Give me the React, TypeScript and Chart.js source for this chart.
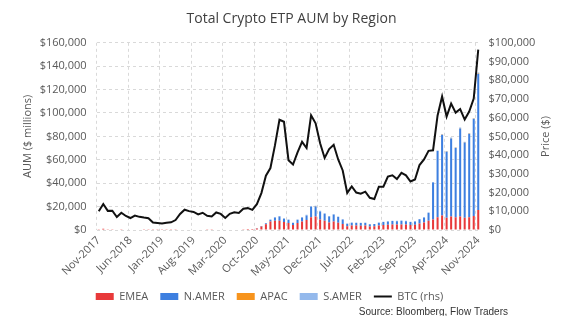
import React, { useEffect, useRef } from "react";
import { Chart, registerables } from "chart.js";

Chart.register(...registerables);

const MONTHS = ["Jan", "Feb", "Mar", "Apr", "May", "Jun", "Jul", "Aug", "Sep", "Oct", "Nov", "Dec"];
// Monthly categories Nov-2017 .. Nov-2024
const categories: string[] = [];
for (let y = 2017, m = 10; y < 2024 || (y === 2024 && m <= 10); m++) {
  if (m === 12) { m = 0; y++; }
  if (y > 2024 || (y === 2024 && m > 10)) break;
  categories.push(`${MONTHS[m]}-${y}`);
}

// AUM by region ($ millions)
const emea = [
  700, 1000, 700, 700, 450, 550, 450, 350, 400, 350, 300, 300, 200, 150, 150, 170, 200, 250, 350, 450,
  400, 400, 350, 400, 300, 300, 450, 400, 350, 450, 500, 500, 650, 800,
  800, 1300, 3000, 5000, 7200, 8000, 8000, 6800, 6000, 4200, 6000, 7200, 8500, 11000, 11500, 9000,
  7800, 6500, 7300, 6300, 5200, 3300, 3900, 3800, 3700, 3800, 3000, 3100, 3900, 4200, 4400, 4700,
  4600, 4800, 4600, 4200, 4500, 5600, 6400, 8000, 9000, 11000, 12500, 10500, 11500, 10800, 11500, 10500,
  11000, 12000, 17000,
];
const namer = [
  0, 0, 0, 0, 0, 0, 0, 0, 0, 0, 0, 0, 0, 0, 0, 0, 0, 0, 0, 0,
  0, 0, 0, 0, 0, 0, 0, 0, 0, 0, 0, 0, 0, 0,
  100, 200, 500, 800, 1600, 2700, 3500, 2900, 2700, 1900, 2700, 3400, 4000, 8800, 8600, 6900,
  6100, 5100, 5800, 4800, 3700, 2000, 2400, 2300, 2300, 2300, 1850, 1950, 2400, 2600, 2850, 3050,
  2950, 3150, 2950, 2600, 2750, 3650, 4350, 6700, 31500, 56500, 68800, 56300, 66600, 59200, 75300, 64300,
  71000, 82900, 116600,
];
const apac = [
  0, 0, 0, 0, 0, 0, 0, 0, 0, 0, 0, 0, 0, 0, 0, 0, 0, 0, 0, 0,
  0, 0, 0, 0, 0, 0, 0, 0, 0, 0, 0, 0, 0, 0,
  0, 0, 0, 0, 0, 0, 100, 0, 0, 0, 0, 0, 0, 100, 100, 0,
  0, 0, 0, 0, 0, 0, 0, 0, 0, 0, 0, 0, 0, 0, 0, 0,
  0, 0, 0, 0, 0, 0, 0, 0, 100, 0, 100, 200, 300, 200, 200, 200,
  200, 200, 300,
];
const samer = [
  0, 0, 0, 0, 0, 0, 0, 0, 0, 0, 0, 0, 0, 0, 0, 0, 0, 0, 0, 0,
  0, 0, 0, 0, 0, 0, 0, 0, 0, 0, 0, 0, 0, 0,
  0, 0, 0, 0, 200, 300, 400, 300, 300, 200, 300, 400, 500, 600, 600, 500,
  500, 400, 500, 400, 300, 200, 200, 200, 200, 200, 150, 150, 200, 200, 250, 250,
  250, 250, 250, 200, 250, 250, 250, 300, 400, 500, 600, 500, 600, 500, 600, 500,
  600, 600, 800,
];
// BTC price ($), right axis
const btc = [
  10000, 13860, 10220, 10300, 6930, 9240, 7490, 6400, 7730, 7030, 6630, 6320, 4020, 3740, 3460, 3850,
  4100, 5320, 8570, 10820, 10080, 9630, 8290, 9200, 7560, 7190, 9350, 8600, 6440, 8660, 9460, 9140,
  11350, 11680, 10780, 13800, 19700, 29000, 33100, 45200, 58900, 57800, 37300, 35000, 41500, 47100,
  43800, 61300, 57000, 46300, 38500, 43200, 45500, 37700, 31800, 19800, 23300, 20000, 19400, 20500,
  17200, 16550, 23100, 23150, 28500, 29250, 27200, 30500, 29200, 25900, 26970, 34700, 37700, 42300,
  42600, 61200, 71300, 60600, 67500, 62700, 64600, 59000, 63300, 70200, 96400,
];

const leftTicks = [0, 20000, 40000, 60000, 80000, 100000, 120000, 140000, 160000];
const rightTicks = [0, 10000, 20000, 30000, 40000, 50000, 60000, 70000, 80000, 90000, 100000];

const FONT = "'Open Sans', 'Noto Sans', sans-serif";
const GRID = "#d9d9d9";
const TXT = "#595959";
const fmt = (v: number) => "$" + Math.round(v).toLocaleString("en-US");

export default function App() {
  const ref = useRef<HTMLCanvasElement | null>(null);
  useEffect(() => {
    if (!ref.current) return;
    const extras = {
      id: "extras",
      afterLayout(chart: any) {
        if (chart.legend) chart.legend.left -= 44;
      },
      afterDraw(chart: any) {
        const ctx = chart.ctx;
        ctx.save();
        ctx.fillStyle = "#333333";
        ctx.font = "10px 'Liberation Sans', Arial, sans-serif";
        ctx.textAlign = "right";
        ctx.textBaseline = "middle";
        ctx.fillText("Source: Bloomberg, Flow Traders", 500, 304);
        ctx.translate(538, (chart.chartArea.top + chart.chartArea.bottom) / 2);
        ctx.rotate(-Math.PI / 2);
        ctx.textAlign = "center";
        ctx.fillStyle = TXT;
        ctx.font = `11px ${FONT}`;
        ctx.fillText("Price ($)", 0, 0);
        ctx.restore();
      },
    };
    const chart = new Chart(ref.current, {
      type: "bar",
      data: {
        labels: categories,
        datasets: [
          { label: "EMEA", data: emea, backgroundColor: "#e8393a", yAxisID: "y", stack: "a" },
          { label: "N.AMER", data: namer, backgroundColor: "#3d7fe0", yAxisID: "y", stack: "a" },
          { label: "APAC", data: apac, backgroundColor: "#f7941d", yAxisID: "y", stack: "a" },
          { label: "S.AMER", data: samer, backgroundColor: "#94b9ec", yAxisID: "y", stack: "a" },
          {
            type: "line",
            label: "BTC (rhs)",
            data: btc,
            borderColor: "#111111",
            backgroundColor: "#111111",
            borderWidth: 2,
            pointRadius: 0,
            tension: 0,
            yAxisID: "y1",
            order: -1,
          } as any,
        ],
      },
      options: {
        animation: false,
        responsive: true,
        maintainAspectRatio: false,
        datasets: { bar: { barPercentage: 0.45, categoryPercentage: 1 } },
        layout: { padding: { left: 9, right: 0, top: 0, bottom: 4 } },
        plugins: {
          tooltip: { enabled: false },
          title: {
            display: true,
            text: "Total Crypto ETP AUM by Region",
            color: "#404040",
            font: { family: FONT, size: 14, weight: "normal" },
            padding: { top: 3, bottom: 15 },
          },
          legend: {
            position: "bottom",
            labels: {
              color: TXT,
              font: { family: FONT, size: 11 },
              usePointStyle: true,
              pointStyleWidth: 18,
              boxHeight: 7,
              padding: 12,
              generateLabels: (chart: any) =>
                chart.data.datasets.map((ds: any, i: number) => {
                  const isLine = ds.type === "line";
                  return {
                    text: ds.label,
                    fillStyle: isLine ? "rgba(0,0,0,0)" : ds.backgroundColor,
                    strokeStyle: isLine ? ds.borderColor : ds.backgroundColor,
                    lineWidth: isLine ? 2 : 0,
                    pointStyle: isLine ? "line" : "rect",
                    fontColor: TXT,
                    hidden: false,
                    datasetIndex: i,
                  };
                }),
            },
          },
        },
        scales: {
          x: {
            stacked: true,
            offset: true,
            afterFit: (s: any) => { s.height = 49; },
            grid: {
              offset: true,
              drawTicks: false,
              color: (c: any) => (c.index % 7 === 0 ? GRID : "rgba(0,0,0,0)"),
            },
            border: { display: false, dash: [3, 3] },
            ticks: {
              autoSkip: false,
              minRotation: 45,
              maxRotation: 45,
              padding: 4,
              color: TXT,
              font: { family: FONT, size: 11 },
              callback: (_v: any, i: number) => (i % 7 === 0 ? categories[i] : ""),
            },
          },
          y: {
            stacked: true,
            position: "left",
            min: 0,
            max: 160000,
            afterFit: (s: any) => { s.width = 79.5; },
            afterBuildTicks: (s: any) => { s.ticks = leftTicks.map((v) => ({ value: v })); },
            grid: { drawTicks: false, color: GRID },
            border: { display: false, dash: [3, 3] },
            ticks: {
              padding: 10,
              color: TXT,
              font: { family: FONT, size: 11 },
              callback: (v: any) => fmt(Number(v)),
            },
            title: {
              display: true,
              text: "AUM ($ millions)",
              color: TXT,
              font: { family: FONT, size: 11 },
              padding: { top: 4, bottom: 4 },
            },
          },
          y1: {
            position: "right",
            min: 0,
            max: 100000,
            afterFit: (s: any) => { s.width = 85.5; },
            afterBuildTicks: (s: any) => { s.ticks = rightTicks.map((v) => ({ value: v })); },
            grid: { display: false, drawTicks: false },
            border: { display: false },
            ticks: {
              padding: 8,
              color: TXT,
              font: { family: FONT, size: 11 },
              callback: (v: any) => fmt(Number(v)),
            },
          },
        },
      } as any,
      plugins: [extras],
    });
    return () => chart.destroy();
  }, []);
  return (
    <div style={{ position: "relative", width: 558, height: 308 }}>
      <canvas ref={ref} />
    </div>
  );
}
